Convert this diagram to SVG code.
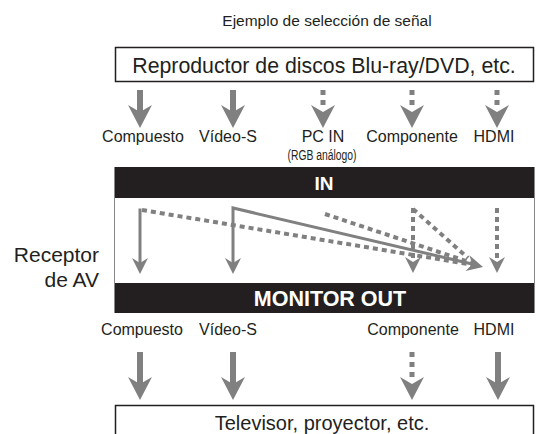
<svg xmlns="http://www.w3.org/2000/svg" width="537" height="434" viewBox="0 0 537 434">
<style>
text{font-family:"Liberation Sans",Arial,Helvetica,sans-serif;fill:#231f20}
.lbl{font-size:16px;text-anchor:middle}
.box{fill:#fff;stroke:#231f20;stroke-width:1.5}
.bar{fill:#231f20}
.bartxt{fill:#fff;font-weight:bold;text-anchor:middle}
.g{fill:#808080}
.sl{stroke:#808080;stroke-width:3;fill:none}
.dl{stroke:#808080;stroke-width:4;fill:none;stroke-dasharray:5 4}
</style>
<defs>
<path id="hb" d="M0,0 L-12,-23 L0,-16 L12,-23 Z"/>
<path id="hs" d="M0,0 L-8,-16 L0,-11 L8,-16 Z"/>
<rect id="sq" x="-2.5" y="0" width="5" height="5"/>
</defs>
<g id="title"><text x="327" y="26" style="font-size:15.5px;text-anchor:middle">Ejemplo de selección de señal</text></g>
<g id="source">
<rect class="box" x="115.5" y="47.5" width="418" height="34"/>
<text x="324" y="73" style="font-size:21.3px;text-anchor:middle">Reproductor de discos Blu-ray/DVD, etc.</text>
</g>
<g id="in-labels">
<text class="lbl" x="143" y="142">Compuesto</text>
<text class="lbl" x="228" y="142">Vídeo-S</text>
<text class="lbl" x="323" y="142">PC IN</text>
<text x="322" y="160" style="font-size:14px;text-anchor:middle" textLength="69" lengthAdjust="spacingAndGlyphs">(RGB análogo)</text>
<text class="lbl" x="412" y="142">Componente</text>
<text class="lbl" x="494" y="142">HDMI</text>
</g>
<g id="receiver">
<rect x="114.5" y="167.5" width="420" height="145" fill="#fff" stroke="#888" stroke-width="1"/>
<rect class="bar" x="115" y="167" width="419" height="31"/>
<rect class="bar" x="115" y="283" width="419" height="30"/>
<text class="bartxt" x="324" y="190" style="font-size:19px">IN</text>
<text class="bartxt" x="330" y="306" style="font-size:21.5px">MONITOR OUT</text>
<text x="99" y="262" style="font-size:21px;text-anchor:end">Receptor</text>
<text x="99" y="287" style="font-size:21px;text-anchor:end">de AV</text>
</g>
<g id="out-labels">
<text class="lbl" x="142" y="335">Compuesto</text>
<text class="lbl" x="228" y="335">Vídeo-S</text>
<text class="lbl" x="413" y="335">Componente</text>
<text class="lbl" x="494" y="335">HDMI</text>
</g>
<g id="display">
<rect class="box" x="115.5" y="405.5" width="418" height="40"/>
<text x="322" y="430" style="font-size:20px;text-anchor:middle">Televisor, proyector, etc.</text>
</g>
<g id="connectors">
<g class="g">
<rect x="137" y="90" width="6" height="24"/><use href="#hb" x="140" y="128"/>
<rect x="230" y="90" width="6" height="24"/><use href="#hb" x="233" y="128"/>
<use href="#sq" x="323" y="90"/><use href="#sq" x="323" y="100"/><use href="#hb" x="323" y="128"/>
<use href="#sq" x="412" y="90"/><use href="#sq" x="412" y="100"/><use href="#hb" x="412" y="128"/>
<use href="#sq" x="497" y="90"/><use href="#sq" x="497" y="100"/><use href="#hb" x="497" y="128"/>
</g>
<path class="dl" d="M142,210 L474,265"/>
<path class="dl" d="M325,214 L472,263"/>
<path class="dl" d="M413,209 L468,258"/>
<path class="dl" d="M413,208 V262"/>
<path class="dl" d="M497,208 V262"/>
<path class="sl" d="M140,208.5 V264"/>
<path class="sl" d="M233,264 V208 L472,264"/>
<g class="g">
<use href="#hs" x="140" y="274"/>
<use href="#hs" x="233" y="274"/>
<use href="#hs" x="413" y="273"/>
<use href="#hs" x="497" y="273"/>
<use href="#hs" transform="translate(483,267) rotate(-76)"/>
<rect x="137" y="352" width="6" height="33"/><use href="#hb" x="140" y="400"/>
<rect x="230" y="352" width="6" height="33"/><use href="#hb" x="233" y="400"/>
<use href="#sq" x="412" y="352"/><use href="#sq" x="412" y="362"/><use href="#sq" x="412" y="372"/><use href="#hb" x="412" y="400"/>
<rect x="495" y="352" width="6" height="33"/><use href="#hb" x="498" y="400"/>
</g>
</g>
</svg>
